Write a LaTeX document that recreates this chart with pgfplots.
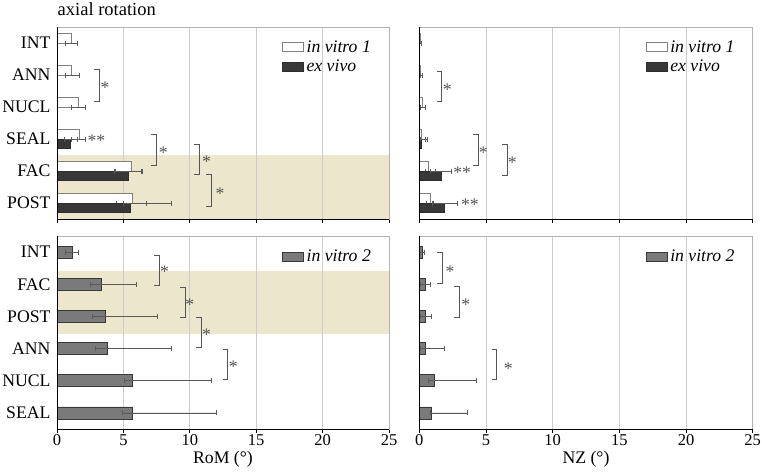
\documentclass[border=0pt]{standalone}
\usepackage{fontspec}
\setmainfont{Liberation Serif}
\usepackage{pgfplots}
\pgfplotsset{compat=1.18}
\usepackage{pgfplotstable}

\definecolor{band}{RGB}{236,230,205}
\definecolor{dbar}{HTML}{383838}
\definecolor{mbar}{HTML}{7A7A7A}
\definecolor{ebar}{HTML}{5A5A5A}
\definecolor{sig}{HTML}{555555}
\newcommand{\fs}{\fontsize{17.7}{20}\selectfont}

% columns: category index, value, error minus, error plus
\pgfplotstableread{
c v em ep
0 1.10 0.45 0.46
1 1.10 0.45 0.55
2 1.63 0.55 0.47
3 1.68 0.60 0.48
4 5.60 1.18 0.75
5 5.67 1.23 1.08
}\romA
\pgfplotstableread{
c v em ep
3 1.03 0.48 0.53
4 5.35 1.05 1.10
5 5.55 0.58 3.09
}\romB
\pgfplotstableread{
c v em ep
0 0.08 0.05 0.10
1 0.10 0.05 0.12
2 0.25 0.15 0.18
3 0.18 0.10 0.27
4 0.70 0.25 0.53
5 0.80 0.30 0.25
}\nzA
\pgfplotstableread{
c v em ep
3 0.15 0.10 0.48
4 1.68 0.88 0.75
5 1.85 0.87 1.00
}\nzB
\pgfplotstableread{
c v em ep
0 1.18 0.53 0.42
1 3.36 0.88 2.61
2 3.64 0.95 3.91
3 3.82 0.91 4.82
4 5.67 0.57 5.98
5 5.65 0.70 6.32
}\romC
\pgfplotstableread{
c v em ep
0 0.25 0.22 0.13
1 0.48 0.40 0.32
2 0.48 0.38 0.40
3 0.43 0.33 1.47
4 1.13 0.48 3.17
5 0.93 0.13 2.70
}\nzC

\pgfplotsset{
  panel/.style={
    scale only axis, clip=false,
    xmin=0, xmax=25, ymin=-0.5, ymax=5.5, y dir=reverse,
    xtick={0,5,...,25}, ytick={0,...,5},
    xmajorgrids, grid style={draw=gray!40, line width=0.8pt},
    axis line style={draw=gray!60, line width=0.8pt},
    xtick pos=bottom, tick align=outside, major tick length=4pt,
    x tick style={black, line width=0.8pt}, y tick style={draw=none},
    tick label style={font=\fs},
    /pgf/number format/assume math mode=true,
    xticklabel style={inner ysep=1pt, font=\fontsize{16.5}{19}\selectfont},
    yticklabel style={xshift=1pt},
    label style={font=\fs},
    xlabel style={inner ysep=1pt, yshift=-3.5pt},
    legend cell align=left,
    legend style={draw=none, fill=none, at={(0.955,0.94)}, anchor=north east,
      font=\fs\itshape, row sep=2pt, inner sep=0pt,
      nodes={inner ysep=2pt, inner xsep=3pt}},
    error bars/x dir=both, error bars/x explicit,
    error bars/error mark=|,
    error bars/error bar style={ebar, line width=0.7pt},
    error bars/error mark options={ebar, mark size=2.5pt, line width=0.7pt},
  },
  box legend/.style={legend image code/.code={\draw[##1] (0pt,-4.5pt) rectangle (21pt,4.5pt);}},
  wbar/.style={xbar, bar width=0.3, bar shift=-0.15, fill=white, draw=gray, line width=0.7pt, box legend},
  kbar/.style={xbar, bar width=0.3, bar shift=0.15, fill=dbar, draw=dbar!80!black, line width=0.7pt, box legend},
  gbar/.style={xbar, bar width=0.37, bar shift=0, fill=mbar, draw=dbar, line width=0.7pt, box legend},
}
\tikzset{
  star/.style={anchor=base, yshift=-8.5pt, inner sep=0pt, text=sig, font=\fs},
}
\newcommand{\brk}[3]{\draw[sig, line width=0.8pt] (axis cs:#1,#2) ++(-5pt,0pt) -- ++(5pt,0pt) -- (axis cs:#1,#3) -- ++(-5pt,0pt);}
\newcommand{\st}[3]{\node[star] at (axis cs:#1,#2) {#3};}

\begin{document}
\begin{tikzpicture}[trim left=0pt, trim right=762pt]
\path (0,0) rectangle (762pt,475pt);
\node[anchor=base west, inner sep=0pt, font=\fontsize{18.5}{20}\selectfont] at (57.5pt,459pt) {axial rotation};
% shaded FAC/POST bands, behind the axes
\fill[band] (57pt,256pt) rectangle (389pt,320pt);
\fill[band] (57pt,141.5pt) rectangle (389pt,203.6pt);

% top left: RoM
\begin{axis}[panel, name=tl, at={(57pt,256pt)}, anchor=south west,
  width=332pt, height=192pt, xticklabels={},
  yticklabels={INT,ANN,NUCL,SEAL,FAC,POST}]
  \addplot[wbar] table[x=v, y=c, x error minus=em, x error plus=ep] {\romA};
  \addplot[kbar] table[x=v, y=c, x error minus=em, x error plus=ep] {\romB};
  \legend{in vitro 1, ex vivo}
  \brk{3.16}{0.84}{1.84} \st{3.61}{1.31}{*}
  \brk{7.48}{2.85}{3.81} \st{8.0}{3.34}{*}
  \brk{10.72}{3.16}{4.12} \st{11.27}{3.63}{*}
  \brk{11.6}{4.12}{5.1} \st{12.27}{4.62}{*}
  \st{2.97}{2.96}{**}
\end{axis}
\draw[black, line width=0.9pt] (tl.north west) -- (tl.south west) -- (tl.south east);

% top right: NZ
\begin{axis}[panel, name=tr, at={(419.3pt,256pt)}, anchor=south west,
  width=333.4pt, height=192pt, xticklabels={}, yticklabels={}]
  \addplot[wbar] table[x=v, y=c, x error minus=em, x error plus=ep] {\nzA};
  \addplot[kbar] table[x=v, y=c, x error minus=em, x error plus=ep] {\nzB};
  \legend{in vitro 1, ex vivo}
  \brk{1.68}{0.88}{1.84} \st{2.1}{1.38}{*}
  \brk{4.42}{2.86}{3.82} \st{4.8}{3.34}{*}
  \brk{6.57}{3.18}{4.15} \st{6.97}{3.66}{*}
  \st{3.22}{3.97}{**}
  \st{3.8}{4.96}{**}
\end{axis}
\draw[black, line width=0.9pt] (tr.north west) -- (tr.south west) -- (tr.south east);

% bottom left: RoM
\begin{axis}[panel, name=bl, at={(57pt,46pt)}, anchor=south west,
  width=332pt, height=193pt, xlabel={RoM (°)},
  yticklabels={INT,FAC,POST,ANN,NUCL,SEAL}]
  \addplot[gbar] table[x=v, y=c, x error minus=em, x error plus=ep] {\romC};
  \legend{in vitro 2}
  \brk{7.68}{0.09}{1.02} \st{8.1}{0.53}{*}
  \brk{9.64}{1.09}{2.02} \st{10.0}{1.54}{*}
  \brk{10.84}{2.02}{2.96} \st{11.27}{2.47}{*}
  \brk{12.85}{3.02}{3.97} \st{13.27}{3.48}{*}
\end{axis}
\draw[black, line width=0.9pt] (bl.north west) -- (bl.south west) -- (bl.south east);

% bottom right: NZ
\begin{axis}[panel, name=br, at={(419.3pt,46pt)}, anchor=south west,
  width=333.4pt, height=193pt, xlabel={NZ (°)}, yticklabels={}]
  \addplot[gbar] table[x=v, y=c, x error minus=em, x error plus=ep] {\nzC};
  \legend{in vitro 2}
  \brk{1.7}{0.02}{0.97} \st{2.3}{0.52}{*}
  \brk{2.98}{1.07}{2.02} \st{3.48}{1.56}{*}
  \brk{5.8}{3.02}{3.97} \st{6.67}{3.54}{*}
\end{axis}
\draw[black, line width=0.9pt] (br.north west) -- (br.south west) -- (br.south east);
\end{tikzpicture}
\end{document}
